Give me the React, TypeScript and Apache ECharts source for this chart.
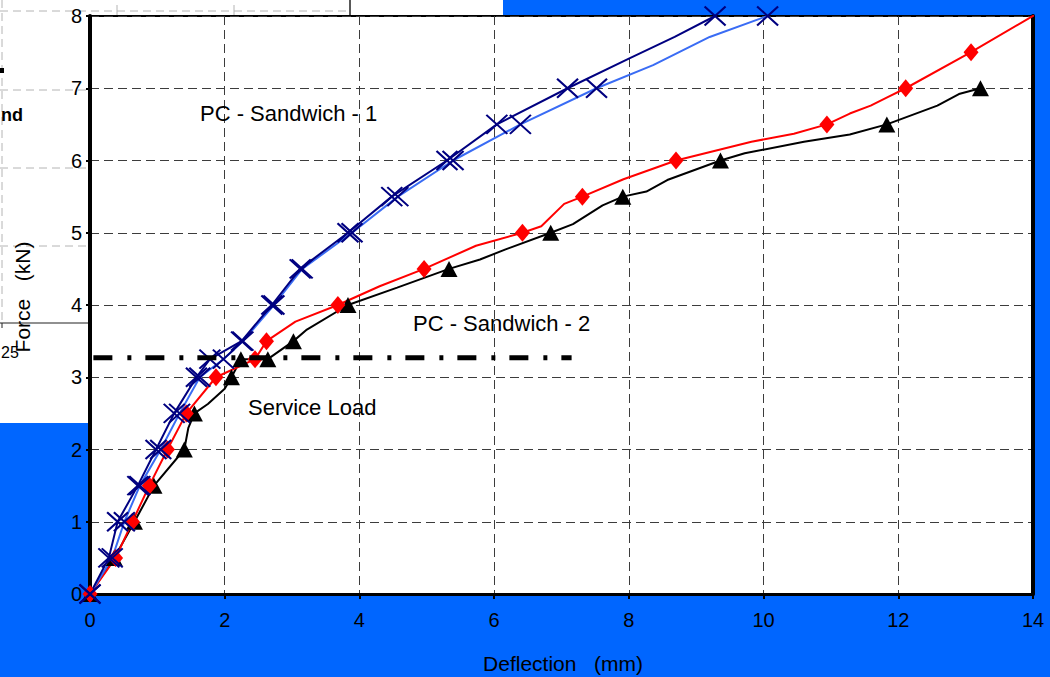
import React, { useEffect, useRef } from "react";
import * as echarts from "echarts";

// ---------- data (deflection mm, force kN) ----------
const navy1Curve: number[][] = [
  [0, 0], [0.28, 0.5], [0.41, 1.0], [0.71, 1.5], [0.98, 2.0], [1.25, 2.5], [1.58, 3.0],
  [1.78, 3.25], [2.25, 3.5], [2.7, 4.0], [3.12, 4.5], [3.83, 5.0], [4.48, 5.5], [5.3, 6.0],
  [6.04, 6.5], [7.09, 7.0], [8.0, 7.41], [8.68, 7.71], [9.28, 8.0],
];
const blue1Curve: number[][] = [
  [0, 0], [0.33, 0.5], [0.51, 1.0], [0.74, 1.5], [1.05, 2.0], [1.33, 2.5], [1.63, 3.0],
  [1.98, 3.25], [2.27, 3.5], [2.73, 4.0], [3.15, 4.5], [3.89, 5.0], [4.57, 5.5], [5.39, 6.0],
  [6.39, 6.5], [7.52, 7.0], [8.36, 7.32], [9.2, 7.71], [10.06, 8.0],
];
const red2Curve: number[][] = [
  [0, 0], [0.38, 0.5], [0.63, 1.0], [0.88, 1.5], [1.15, 2.0], [1.43, 2.5], [1.87, 3.0],
  [2.45, 3.25], [2.62, 3.5], [3.05, 3.77], [3.68, 4.0], [4.3, 4.26], [4.96, 4.5], [5.73, 4.82],
  [6.42, 5.0], [6.7, 5.09], [7.04, 5.4], [7.31, 5.5], [7.92, 5.74], [8.7, 6.0], [9.82, 6.26],
  [10.45, 6.37], [10.94, 6.5], [11.28, 6.65], [11.59, 6.76], [11.85, 6.88], [12.11, 7.0],
  [13.08, 7.5], [14.2, 8.11],
];
const black2Curve: number[][] = [
  [0, 0], [0.36, 0.5], [0.66, 1.0], [0.95, 1.5], [1.4, 2.0], [1.46, 2.3], [1.55, 2.5],
  [1.75, 2.63], [2.0, 2.84], [2.1, 3.0], [2.24, 3.25], [2.64, 3.25], [3.02, 3.5], [3.22, 3.66],
  [3.83, 4.0], [4.56, 4.24], [5.33, 4.5], [5.79, 4.63], [6.17, 4.77], [6.84, 5.0], [7.17, 5.12],
  [7.61, 5.38], [7.91, 5.5], [8.26, 5.57], [8.57, 5.73], [9.36, 6.0], [9.72, 6.1], [10.6, 6.26],
  [11.28, 6.36], [11.83, 6.5], [12.58, 6.76], [12.9, 6.92], [13.22, 7.0],
];
const serviceLoadLevel = 3.27;
const serviceLoadSpan = [0.05, 7.15];

const xRange = [0, 14];
const xStep = 2;
const yRange = [0, 8];
const yStep = 1;

const xTitle = "Deflection   (mm)";
const yTitle = "Force   (kN)";
const labels = ["PC - Sandwich - 1", "PC - Sandwich - 2", "Service Load"];

// markers sit on the load steps (multiples of 0.25 kN)
const marked = (pts: number[][]) =>
  pts.filter(([, y]) => Math.abs(y * 4 - Math.round(y * 4)) < 1e-6);

const FONT = "'Liberation Sans', Arial, Helvetica, sans-serif";
const BLUE_BG = "#0066ff";
const X_SYMBOL = "path://M0,0L20,20M20,0L0,20";

export default function App() {
  const ref = useRef<HTMLDivElement>(null);
  useEffect(() => {
    if (!ref.current) return;
    const chart = echarts.init(ref.current, null, { renderer: "svg" });
    const gray = "#b4b4b4";
    const bg: any[] = [
      // blue areas of the background
      { type: "rect", shape: { x: 503, y: 0, width: 547, height: 17 }, style: { fill: BLUE_BG } },
      { type: "rect", shape: { x: 1033, y: 0, width: 17, height: 677 }, style: { fill: BLUE_BG } },
      { type: "rect", shape: { x: 0, y: 594, width: 1050, height: 83 }, style: { fill: BLUE_BG } },
      { type: "rect", shape: { x: 0, y: 423, width: 90, height: 254 }, style: { fill: BLUE_BG } },
      // remnants of another chart behind
      { type: "line", shape: { x1: 0, y1: 11, x2: 350, y2: 11 }, style: { stroke: gray, lineWidth: 1, lineDash: [8, 5] } },
      { type: "line", shape: { x1: 0, y1: 90, x2: 88, y2: 90 }, style: { stroke: gray, lineWidth: 1, lineDash: [8, 5] } },
      { type: "line", shape: { x1: 0, y1: 168, x2: 88, y2: 168 }, style: { stroke: gray, lineWidth: 1, lineDash: [8, 5] } },
      { type: "line", shape: { x1: 0, y1: 246, x2: 88, y2: 246 }, style: { stroke: gray, lineWidth: 1, lineDash: [8, 5] } },
      { type: "line", shape: { x1: 2, y1: 0, x2: 2, y2: 323 }, style: { stroke: gray, lineWidth: 1, lineDash: [8, 5] } },
      { type: "line", shape: { x1: 117, y1: 5, x2: 117, y2: 15 }, style: { stroke: gray, lineWidth: 1 } },
      { type: "line", shape: { x1: 234, y1: 5, x2: 234, y2: 15 }, style: { stroke: gray, lineWidth: 1 } },
      { type: "line", shape: { x1: 350, y1: 0, x2: 350, y2: 16 }, style: { stroke: "#222", lineWidth: 1.5 } },
      { type: "line", shape: { x1: 0, y1: 323, x2: 90, y2: 323 }, style: { stroke: "#222", lineWidth: 1.2 } },
      { type: "line", shape: { x1: 2, y1: 323, x2: 2, y2: 328 }, style: { stroke: "#222", lineWidth: 1 } },
      { type: "rect", shape: { x: 0, y: 68, width: 4, height: 5 }, style: { fill: "#000" } },
      { type: "text", x: 1, y: 115, style: { text: "nd", fontSize: 18, fontWeight: "bold", fontFamily: FONT, fill: "#000", textAlign: "left", textVerticalAlign: "middle" } },
      { type: "text", x: 1, y: 352, style: { text: "25", fontSize: 16, fontFamily: FONT, fill: "#000", textAlign: "left", textVerticalAlign: "middle" } },
    ].map((e) => ({ ...e, z: -100, silent: true }));

    const texts: any[] = [
      { type: "text", x: 563, y: 663, style: { text: xTitle, fontSize: 21, fontFamily: FONT, fill: "#000", textAlign: "center", textVerticalAlign: "middle" } },
      { type: "text", x: 22, y: 297, rotation: Math.PI / 2, style: { text: yTitle, fontSize: 21, fontFamily: FONT, fill: "#000", textAlign: "center", textVerticalAlign: "middle" } },
      { type: "text", x: 200, y: 113, style: { text: labels[0], fontSize: 22, fontFamily: FONT, fill: "#000", textAlign: "left", textVerticalAlign: "middle" } },
      { type: "text", x: 413, y: 323, style: { text: labels[1], fontSize: 22, fontFamily: FONT, fill: "#000", textAlign: "left", textVerticalAlign: "middle" } },
      { type: "text", x: 248, y: 407, style: { text: labels[2], fontSize: 22, fontFamily: FONT, fill: "#000", textAlign: "left", textVerticalAlign: "middle" } },
    ].map((e) => ({ ...e, z: 100 }));

    const splitLine = { show: true, lineStyle: { color: "#3c3c3c", width: 1, type: [9, 5] as any } };
    const axisLabel = { color: "#000", fontSize: 20, fontFamily: FONT };

    const lineSeries = (name: string, data: number[][], color: string) => ({
      name, type: "line", data, showSymbol: false, symbol: "none", clip: true,
      lineStyle: { color, width: 2 }, z: 3,
    });
    const markSeries = (name: string, data: number[][], symbol: string, size: any, itemStyle: any) => ({
      name, type: "scatter", data: marked(data), symbol, symbolSize: size,
      itemStyle: { opacity: 1, ...itemStyle }, z: 4,
    });

    chart.setOption({
      animation: false,
      backgroundColor: "#ffffff",
      grid: {
        left: 90, top: 16, right: 17, bottom: 83, show: true,
        backgroundColor: "#ffffff", borderColor: "#000", borderWidth: 2,
      },
      xAxis: {
        type: "value", min: xRange[0], max: xRange[1], interval: xStep,
        axisLine: { show: true, onZero: false, lineStyle: { color: "#000", width: 3 } },
        axisTick: { show: true, length: 5, lineStyle: { color: "#000", width: 2 } },
        axisLabel: { ...axisLabel, margin: 16 },
        splitLine,
      },
      yAxis: [
        {
          type: "value", min: yRange[0], max: yRange[1], interval: yStep,
          axisLine: { show: true, onZero: false, lineStyle: { color: "#000", width: 4 } },
          axisTick: { show: true, length: 4, lineStyle: { color: "#000", width: 2 } },
          axisLabel: { ...axisLabel, margin: 8 },
          splitLine,
        },
        {
          type: "value", min: yRange[0], max: yRange[1], interval: yStep, position: "right",
          axisLine: { show: true, onZero: false, lineStyle: { color: "#000", width: 4 } },
          axisTick: { show: false }, axisLabel: { show: false }, splitLine: { show: false },
        },
      ],
      graphic: [...bg, ...texts],
      series: [
        lineSeries("PC - Sandwich - 2 (b)", black2Curve, "#000000"),
        markSeries("PC - Sandwich - 2 (b) marks", black2Curve, "triangle", [17, 16], { color: "#000" }),
        lineSeries("PC - Sandwich - 2 (a)", red2Curve, "#ff0000"),
        markSeries("PC - Sandwich - 2 (a) marks", red2Curve, "diamond", [15, 18], { color: "#ff0000" }),
        lineSeries("PC - Sandwich - 1 (b)", blue1Curve, "#3a6cf4"),
        markSeries("PC - Sandwich - 1 (b) marks", blue1Curve, X_SYMBOL, [21, 19], { color: "none", borderColor: "#000080", borderWidth: 2 }),
        lineSeries("PC - Sandwich - 1 (a)", navy1Curve, "#000080"),
        markSeries("PC - Sandwich - 1 (a) marks", navy1Curve, X_SYMBOL, [21, 19], { color: "none", borderColor: "#000080", borderWidth: 2 }),
        {
          name: "Service Load", type: "line", showSymbol: false, symbol: "none",
          data: [[serviceLoadSpan[0], serviceLoadLevel], [serviceLoadSpan[1], serviceLoadLevel]],
          lineStyle: { color: "#000", width: 5, type: [19, 15, 4, 14], cap: "butt" }, z: 5,
        },
      ],
    });
    return () => chart.dispose();
  }, []);
  return (
    <div
      ref={ref}
      style={{ position: "fixed", left: 0, top: 0, width: 1050, height: 677, background: "#fff" }}
    />
  );
}
